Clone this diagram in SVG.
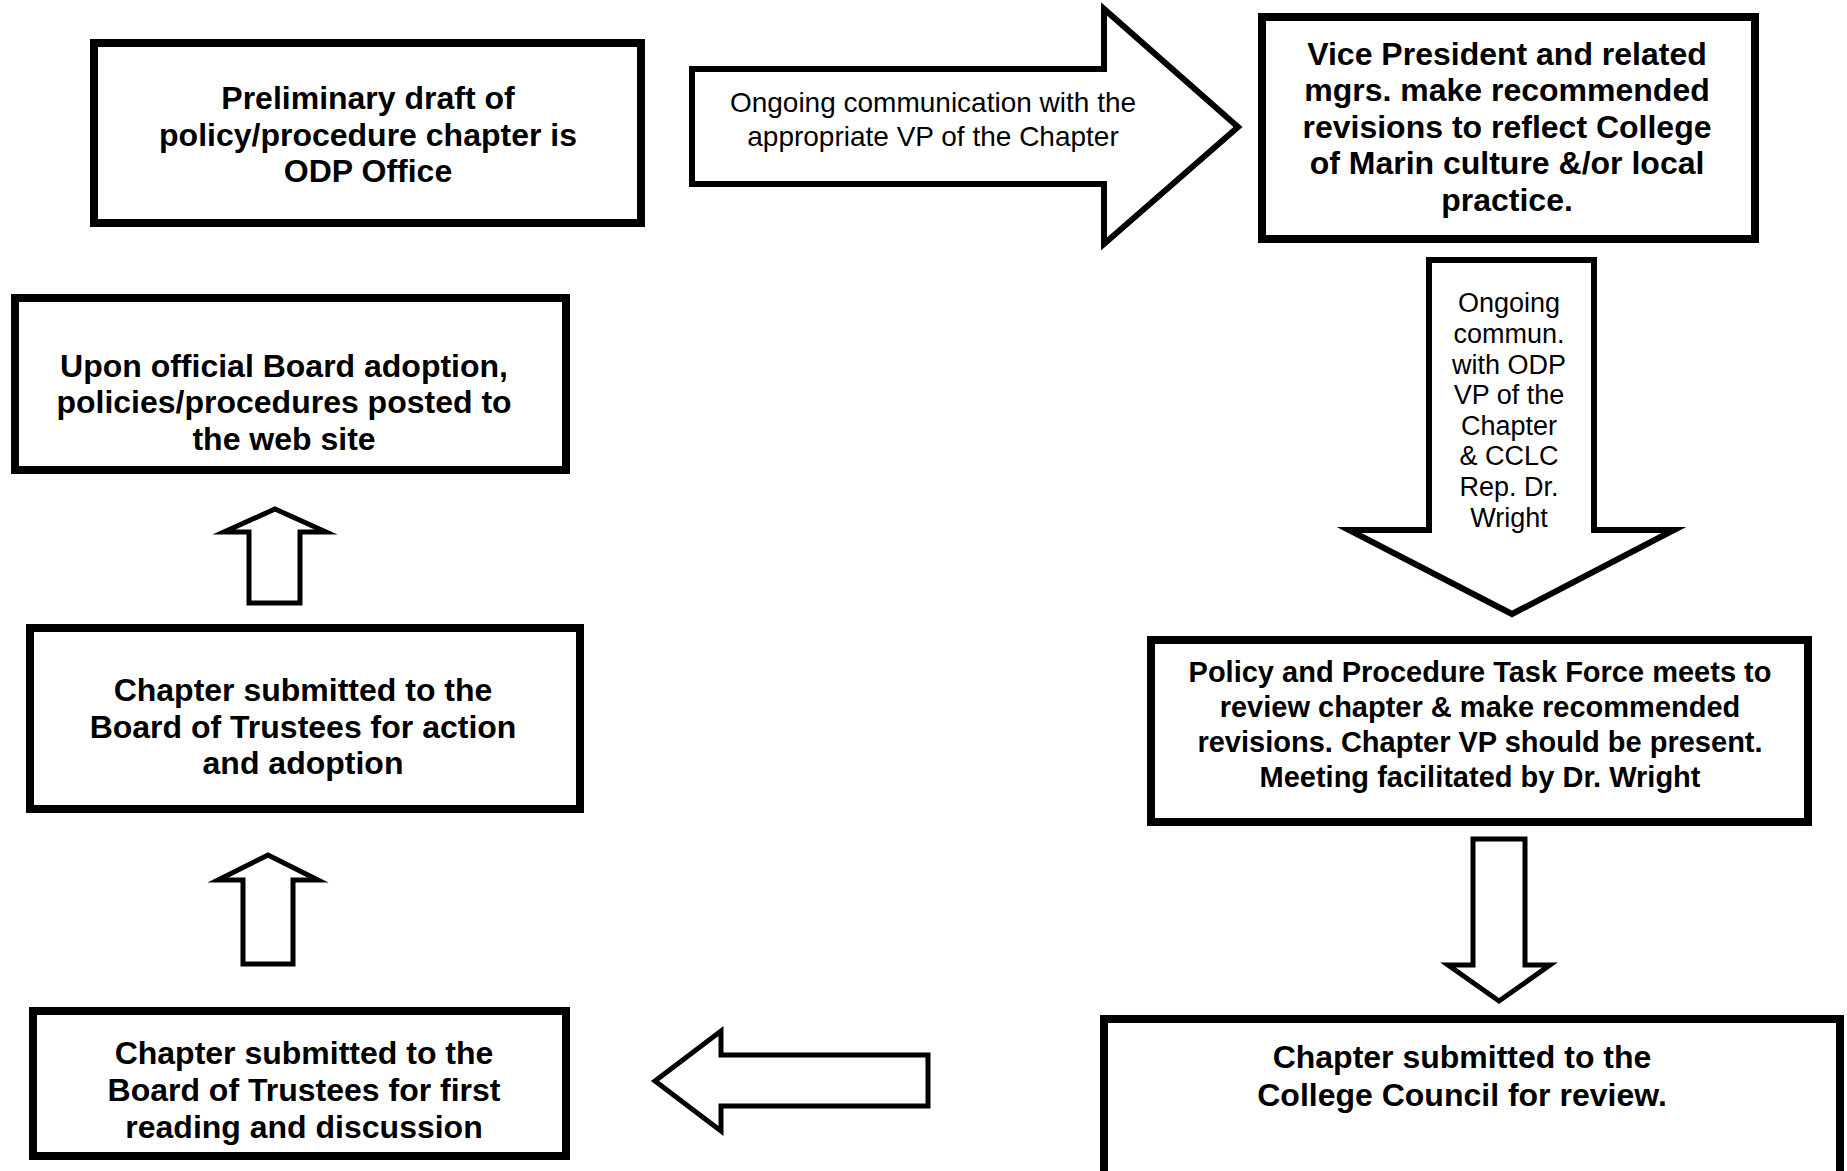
<svg xmlns="http://www.w3.org/2000/svg" width="1847" height="1171" viewBox="0 0 1847 1171">
<style>
.box{fill:#fff;stroke:#000;stroke-width:8}
.arr{fill:#fff;stroke:#000;stroke-width:6;stroke-linejoin:miter;stroke-miterlimit:10}
.sarr{fill:#fff;stroke:#000;stroke-width:5;stroke-linejoin:miter;stroke-miterlimit:10}
.b{font-family:"Liberation Sans",Arial,sans-serif;font-weight:bold;font-size:32px;text-anchor:middle;fill:#000}
.b29{font-family:"Liberation Sans",Arial,sans-serif;font-weight:bold;font-size:29px;text-anchor:middle;fill:#000}
.r{font-family:"Liberation Sans",Arial,sans-serif;font-size:28px;text-anchor:middle;fill:#000}
.r27{font-family:"Liberation Sans",Arial,sans-serif;font-size:27px;text-anchor:middle;fill:#000}
</style>
<rect width="1847" height="1171" fill="#fff"/>
<g id="connectors">
<polygon class="arr" points="692,69 1104,69 1104,9 1238,127 1104,244 1104,184 692,184"/>
<text class="r" x="933" y="112">Ongoing communication with the</text>
<text class="r" x="933" y="146">appropriate VP of the Chapter</text>
<polygon class="arr" points="1429,260 1594,260 1594,530 1674,530 1512,614 1349,530 1429,530"/>
<text class="r27" x="1509" y="312">Ongoing</text>
<text class="r27" x="1509" y="343">commun.</text>
<text class="r27" x="1509" y="374">with ODP</text>
<text class="r27" x="1509" y="404">VP of the</text>
<text class="r27" x="1509" y="435">Chapter</text>
<text class="r27" x="1509" y="465">&amp; CCLC</text>
<text class="r27" x="1509" y="496">Rep. Dr.</text>
<text class="r27" x="1509" y="527">Wright</text>
<polygon class="sarr" points="1473,839 1525,839 1525,965 1550,965 1499,1001 1448,965 1473,965"/>
<polygon class="sarr" points="928,1055 721,1055 721,1031 655,1081 721,1131 721,1106 928,1106"/>
<polygon class="sarr" points="243,964 293,964 293,880 318,880 268,855 218,880 243,880"/>
<polygon class="sarr" points="249,603 300,603 300,532 326,532 275,509 224,532 249,532"/>
</g>
<g id="n1">
<rect class="box" x="94" y="43" width="547" height="180"/>
<text class="b" x="368" y="109">Preliminary draft of</text>
<text class="b" x="368" y="146">policy/procedure chapter is</text>
<text class="b" x="368" y="182">ODP Office</text>
</g>
<g id="n2">
<rect class="box" x="1262" y="17" width="493" height="222"/>
<text class="b" x="1507" y="65">Vice President and related</text>
<text class="b" x="1507" y="101">mgrs. make recommended</text>
<text class="b" x="1507" y="138">revisions to reflect College</text>
<text class="b" x="1507" y="174">of Marin culture &amp;/or local</text>
<text class="b" x="1507" y="211">practice.</text>
</g>
<g id="n3">
<rect class="box" x="1151" y="640" width="657" height="182"/>
<text class="b29" x="1480" y="682">Policy and Procedure Task Force meets to</text>
<text class="b29" x="1480" y="717">review chapter &amp; make recommended</text>
<text class="b29" x="1480" y="752">revisions. Chapter VP should be present.</text>
<text class="b29" x="1480" y="787">Meeting facilitated by Dr. Wright</text>
</g>
<g id="n4">
<rect class="box" x="1104" y="1019" width="736" height="200"/>
<text class="b" x="1462" y="1068">Chapter submitted to the</text>
<text class="b" x="1462" y="1106">College Council for review.</text>
</g>
<g id="n5">
<rect class="box" x="33" y="1011" width="533" height="145"/>
<text class="b" x="304" y="1064">Chapter submitted to the</text>
<text class="b" x="304" y="1101">Board of Trustees for first</text>
<text class="b" x="304" y="1138">reading and discussion</text>
</g>
<g id="n6">
<rect class="box" x="30" y="628" width="550" height="181"/>
<text class="b" x="303" y="701">Chapter submitted to the</text>
<text class="b" x="303" y="738">Board of Trustees for action</text>
<text class="b" x="303" y="774">and adoption</text>
</g>
<g id="n7">
<rect class="box" x="15" y="298" width="551" height="172"/>
<text class="b" x="284" y="377">Upon official Board adoption,</text>
<text class="b" x="284" y="413">policies/procedures posted to</text>
<text class="b" x="284" y="450">the web site</text>
</g>
</svg>
